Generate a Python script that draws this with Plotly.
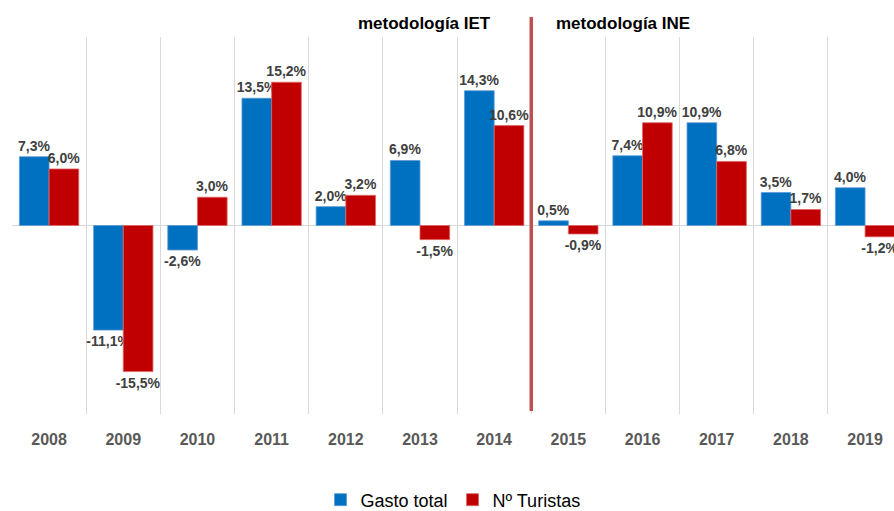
import plotly.graph_objects as go

years = ["2008", "2009", "2010", "2011", "2012", "2013", "2014", "2015", "2016", "2017", "2018", "2019"]
gasto = [7.3, -11.1, -2.6, 13.5, 2.0, 6.9, 14.3, 0.5, 7.4, 10.9, 3.5, 4.0]
turistas = [6.0, -15.5, 3.0, 15.2, 3.2, -1.5, 10.6, -0.9, 10.9, 6.8, 1.7, -1.2]

def fmt(v):
    return f"{v:.1f}".replace(".", ",") + "%"

FONT = "Liberation Sans"

fig = go.Figure()
fig.add_trace(go.Bar(
    x=years, y=gasto, name="Gasto total",
    marker=dict(color="#0070C0", line=dict(color="#5B9BD5", width=0.8)),
    text=[fmt(v) for v in gasto], textposition="outside",
    textfont=dict(family=FONT, size=14, color="#404040", weight="bold"),
    constraintext="none", cliponaxis=True,
))
fig.add_trace(go.Bar(
    x=years, y=turistas, name="Nº Turistas",
    marker=dict(color="#C00000", line=dict(color="#E06666", width=0.8)),
    text=[fmt(v) for v in turistas], textposition="outside",
    textfont=dict(family=FONT, size=14, color="#404040", weight="bold"),
    constraintext="none", cliponaxis=True,
))

fig.update_layout(
    width=894, height=511,
    margin=dict(l=12, r=0, t=37, b=97, autoexpand=False),
    paper_bgcolor="white", plot_bgcolor="white",
    barmode="group", bargap=0.2, bargroupgap=0,
    showlegend=True,
    legend=dict(orientation="h", x=0.5, xanchor="center", y=-0.228, yanchor="middle",
                font=dict(family=FONT, size=18, color="#000000"), itemwidth=30,
                traceorder="normal"),
    font=dict(family=FONT),
)
fig.update_xaxes(
    type="category", range=[-0.5, 11.39], tickson="boundaries",
    showgrid=True, gridcolor="#D9D9D9", gridwidth=1,
    ticks="", ticklabelstandoff=14,
    tickfont=dict(family=FONT, size=16, color="#595959", weight="bold"),
    showline=False, zeroline=False,
)
fig.update_yaxes(
    range=[-20, 20], showgrid=False, showticklabels=False,
    zeroline=True, zerolinecolor="#D9D9D9", zerolinewidth=1, showline=False,
)

fig.add_shape(type="line", xref="x", yref="paper", x0=6.5, x1=6.5, y0=0.008, y1=1.053,
              line=dict(color="#C0504D", width=3.5))

fig.add_annotation(text="<b>metodología IET</b>", xref="paper", yref="paper",
                   x=(424 - 12) / 882, y=(414 - 23) / 377, xanchor="center", yanchor="middle",
                   showarrow=False, font=dict(family=FONT, size=17, color="#000000"))
fig.add_annotation(text="<b>metodología INE</b>", xref="paper", yref="paper",
                   x=(623 - 12) / 882, y=(414 - 23) / 377, xanchor="center", yanchor="middle",
                   showarrow=False, font=dict(family=FONT, size=17, color="#000000"))

fig.write_html("out.html", config={"displayModeBar": False},
               post_script="document.body.style.margin='0';document.body.style.overflow='hidden';")
